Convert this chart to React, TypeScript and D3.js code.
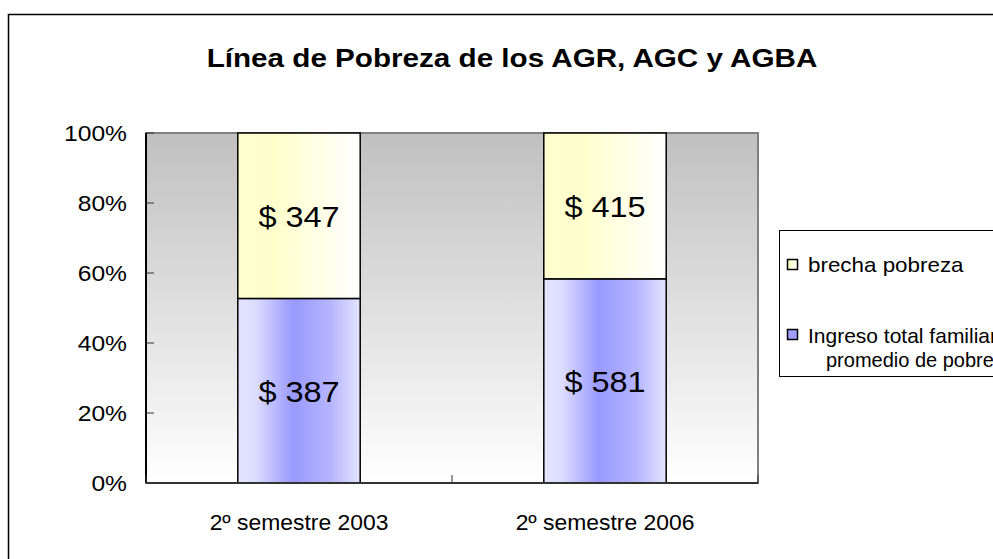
import React, { useEffect, useRef } from "react";
import * as d3 from "d3";

// data
const categories = ["2º semestre 2003", "2º semestre 2006"];
const ingreso = [387, 581];
const brecha = [347, 415];
const yTicks = [0, 0.2, 0.4, 0.6, 0.8, 1];
const legendLabels = ["brecha pobreza", "Ingreso total familiar", "promedio de pobres"];

const font = "'Liberation Sans', Arial, sans-serif";

// text that is a bit wider than the font (the source image was stretched)
function addText(g: any, x: number, y: number, str: string, size: number, sx: number, anchor = "start", weight = "normal") {
	return g.append("text")
		.attr("transform", `translate(${x},${y}) scale(${sx},1)`)
		.attr("text-anchor", anchor).attr("font-family", font)
		.attr("font-size", size).attr("font-weight", weight).text(str);
}

export default function App() {
	const ref = useRef<SVGSVGElement>(null);

	useEffect(() => {
		const svg = d3.select(ref.current);
		svg.selectAll("*").remove();

		const plot = { left: 146, top: 133, right: 758, bottom: 483 };

		const defs = svg.append("defs");
		const bg = defs.append("linearGradient").attr("id", "bg").attr("x1", 0).attr("y1", 0).attr("x2", 0).attr("y2", 1);
		bg.append("stop").attr("offset", "0%").attr("stop-color", "#c0c0c0");
		bg.append("stop").attr("offset", "100%").attr("stop-color", "#ffffff");

		const yel = defs.append("linearGradient").attr("id", "yel").attr("x1", 0).attr("y1", 0).attr("x2", 1).attr("y2", 0);
		yel.append("stop").attr("offset", "0%").attr("stop-color", "#ffffd0");
		yel.append("stop").attr("offset", "30%").attr("stop-color", "#ffffcc");
		yel.append("stop").attr("offset", "100%").attr("stop-color", "#ffffff");

		const blu = defs.append("linearGradient").attr("id", "blu").attr("x1", 0).attr("y1", 0).attr("x2", 1).attr("y2", 0);
		blu.append("stop").attr("offset", "0%").attr("stop-color", "#e4e4ff");
		blu.append("stop").attr("offset", "15%").attr("stop-color", "#dcdcff");
		blu.append("stop").attr("offset", "45%").attr("stop-color", "#9999ff");
		blu.append("stop").attr("offset", "75%").attr("stop-color", "#b4b4ff");
		blu.append("stop").attr("offset", "100%").attr("stop-color", "#e4e4ff");

		// outer chart border
		svg.append("rect").attr("x", 8.5).attr("y", 14.5).attr("width", 1000).attr("height", 560)
			.attr("fill", "#fff").attr("stroke", "#000").attr("stroke-width", 1.5);

		addText(svg, 512, 67, "Línea de Pobreza de los AGR, AGC y AGBA", 26, 1.14, "middle", "bold");

		const x = d3.scaleBand().domain(categories).range([plot.left, plot.right]).paddingInner(0).paddingOuter(0);
		const y = d3.scaleLinear().domain([0, 1]).range([plot.bottom, plot.top]);

		// plot area
		svg.append("rect").attr("x", plot.left).attr("y", plot.top)
			.attr("width", plot.right - plot.left).attr("height", plot.bottom - plot.top)
			.attr("fill", "url(#bg)").attr("stroke", "#808080").attr("stroke-width", 2);

		const barW = x.bandwidth() * 0.4;
		categories.forEach((c, i) => {
			const total = ingreso[i] + brecha[i];
			const share = ingreso[i] / total;
			const bx = x(c)! + (x.bandwidth() - barW) / 2;
			svg.append("rect").attr("x", bx).attr("y", y(share)).attr("width", barW)
				.attr("height", y(0) - y(share)).attr("fill", "url(#blu)").attr("stroke", "#000").attr("stroke-width", 1.5);
			svg.append("rect").attr("x", bx).attr("y", y(1)).attr("width", barW)
				.attr("height", y(share) - y(1)).attr("fill", "url(#yel)").attr("stroke", "#000").attr("stroke-width", 1.5);
			addText(svg, bx + barW / 2, (y(0) + y(share)) / 2 + 11, `$ ${ingreso[i]}`, 29, 1.12, "middle");
			addText(svg, bx + barW / 2, (y(1) + y(share)) / 2 + 11, `$ ${brecha[i]}`, 29, 1.12, "middle");
		});

		// y axis
		svg.append("line").attr("x1", plot.left).attr("x2", plot.left).attr("y1", plot.top).attr("y2", plot.bottom)
			.attr("stroke", "#000").attr("stroke-width", 2);
		yTicks.forEach((t) => {
			svg.append("line").attr("x1", plot.left).attr("x2", plot.left + 8).attr("y1", y(t)).attr("y2", y(t))
				.attr("stroke", "#333");
			addText(svg, 127, y(t) + 8, d3.format(".0%")(t), 22, 1.12, "end");
		});

		// x axis
		const bounds = [plot.left, ...categories.map((c) => x(c)! + x.bandwidth())];
		svg.append("line").attr("x1", plot.left).attr("x2", plot.right).attr("y1", plot.bottom).attr("y2", plot.bottom)
			.attr("stroke", "#333").attr("stroke-width", 2);
		svg.selectAll(".xt").data(bounds).enter().append("line")
			.attr("x1", (d) => d).attr("x2", (d) => d).attr("y1", plot.bottom).attr("y2", plot.bottom - 8)
			.attr("stroke", "#333");
		categories.forEach((c) => {
			addText(svg, x(c)! + x.bandwidth() / 2, 530, c, 22, 1.04, "middle");
		});

		// legend (runs off the right edge, as in the source)
		svg.append("rect").attr("x", 779.5).attr("y", 230.5).attr("width", 240).attr("height", 146)
			.attr("fill", "#fff").attr("stroke", "#000");
		svg.append("rect").attr("x", 787.5).attr("y", 259.5).attr("width", 10).attr("height", 10)
			.attr("fill", "url(#yel)").attr("stroke", "#000").attr("stroke-width", 1.5);
		addText(svg, 808, 272, legendLabels[0], 20, 1.12);
		svg.append("rect").attr("x", 787.5).attr("y", 329.5).attr("width", 10).attr("height", 10)
			.attr("fill", "#a0a0ff").attr("stroke", "#000").attr("stroke-width", 1.5);
		addText(svg, 808, 343, legendLabels[1], 20, 1.05);
		addText(svg, 826, 367, legendLabels[2], 20, 1.0);
	}, []);

	return (
		<svg ref={ref} width={993} height={559}
			style={{ position: "fixed", left: 0, top: 0, background: "#fff" }} />
	);
}
